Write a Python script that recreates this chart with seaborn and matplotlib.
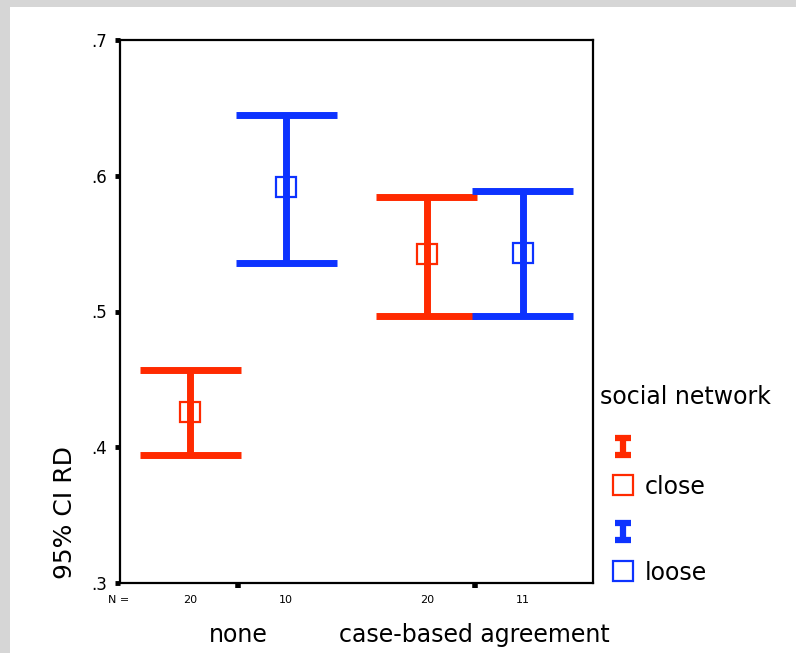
import numpy as np
import pandas as pd
import matplotlib
matplotlib.use("Agg")
import matplotlib.pyplot as plt
import seaborn as sns
from matplotlib.lines import Line2D
from matplotlib.patches import Rectangle

# Groups on the x axis and the hue levels
categories = ["none", "case-based agreement"]
networks = ["close", "loose"]

# Mean RD with 95% confidence bounds, per category (none, case-based agreement)
close_mean = [0.426, 0.542]
close_low = [0.394, 0.497]
close_high = [0.457, 0.584]
loose_mean = [0.592, 0.543]
loose_low = [0.536, 0.497]
loose_high = [0.645, 0.589]

# Group sizes printed under the axis
close_n = [20, 20]
loose_n = [10, 11]

y_ticks = [0.3, 0.4, 0.5, 0.6, 0.7]
y_tick_labels = [".3", ".4", ".5", ".6", ".7"]

RED = "#ff2a00"
BLUE = "#0d33ff"
palette = {"close": RED, "loose": BLUE}

# Long table: low bound, mean and high bound per cell; the median gives the
# mean and the full percentile range gives the interval.
rows = []
for net, lo, mu, hi in [("close", close_low, close_mean, close_high),
                        ("loose", loose_low, loose_mean, loose_high)]:
    for i, cat in enumerate(categories):
        for v in (lo[i], mu[i], hi[i]):
            rows.append({"agreement": cat, "network": net, "RD": v})
df = pd.DataFrame(rows)

sns.set_style("white")
plt.rcParams["font.family"] = ["DejaVu Sans"]
plt.rcParams["text.color"] = "black"
plt.rcParams["xtick.color"] = "black"
plt.rcParams["ytick.color"] = "black"
plt.rcParams["xtick.labelcolor"] = "black"
plt.rcParams["ytick.labelcolor"] = "black"

W, H = 796, 653
fig = plt.figure(figsize=(W / 100, H / 100), dpi=100)
ax = fig.add_axes([120 / W, 1 - 583 / H, (593 - 120) / W, (583 - 40) / H])

DODGE = 0.406
sns.pointplot(
    data=df, x="agreement", y="RD", hue="network",
    order=categories, hue_order=networks, palette=palette,
    estimator="median", errorbar=("pi", 100),
    dodge=DODGE, capsize=0.428, markers="s", linestyles="none",
    err_kws={"linewidth": 5.0, "solid_capstyle": "butt"},
    markersize=14, markeredgewidth=1.6, markerfacecolor="none",
    legend=False, ax=ax,
)
for ln in ax.lines:
    if ln.get_marker() == "s":
        ln.set_zorder(5)

ax.set_xlim(-0.5, 1.5)
ax.set_ylim(0.3, 0.7)
ax.set_yticks(y_ticks)
ax.set_yticklabels(y_tick_labels, fontsize=12, color="black")
ax.set_xticks(range(len(categories)))
ax.set_xticklabels(categories, fontsize=17, color="black")
ax.tick_params(axis="y", left=True, direction="out", length=3.5, width=3.5,
               pad=6, color="black")
ax.tick_params(axis="x", bottom=True, direction="out", length=3.5, width=4,
               pad=25, color="black")
ax.set_xlabel("")
ax.set_ylabel("")
for sp in ax.spines.values():
    sp.set_visible(True)
    sp.set_color("black")
    sp.set_linewidth(1.6)

# Group sizes under each dodged position
trans = ax.get_xaxis_transform()
for i in range(len(categories)):
    for k, nvals in enumerate([close_n, loose_n]):
        xpos = i + (k - 0.5) * DODGE
        ax.text(xpos, -0.032, str(nvals[i]), transform=trans,
                ha="center", va="center", fontsize=8, color="black")
fig.text(119 / W, 1 - 600 / H, "N =", ha="center", va="center", fontsize=8)

# Axis title
fig.text(65 / W, 1 - 579 / H, "95% CI RD", rotation=90, ha="center",
         va="bottom", fontsize=18)

# Legend
fig.text(600 / W, 1 - 397 / H, "social network", ha="left", va="center", fontsize=17)


def ibeam(xc, yc, color):
    hw, hh = 8 / W, 8.5 / H
    kw = dict(color=color, linewidth=4.5, solid_capstyle="butt", transform=fig.transFigure)
    fig.add_artist(Line2D([xc - hw, xc + hw], [yc + hh, yc + hh], **kw))
    fig.add_artist(Line2D([xc - hw, xc + hw], [yc - hh, yc - hh], **kw))
    fig.add_artist(Line2D([xc, xc], [yc - hh, yc + hh], **kw))


for (yi, ys, label, color) in [(446, 485, "close", RED), (531, 571, "loose", BLUE)]:
    ibeam(623 / W, 1 - yi / H, color)
    fig.add_artist(Line2D([623 / W], [1 - ys / H], marker="s", markersize=14,
                          markerfacecolor="none", markeredgecolor=color,
                          markeredgewidth=1.6, linestyle="none",
                          transform=fig.transFigure))
    fig.text(645 / W, 1 - (ys + 2) / H, label, ha="left", va="center", fontsize=17)

# Grey frame along the top and left edges
fig.add_artist(Rectangle((0, 1 - 7 / H), 1, 7 / H, transform=fig.transFigure,
                         facecolor="#d6d6d6", edgecolor="none"))
fig.add_artist(Rectangle((0, 0), 10 / W, 1, transform=fig.transFigure,
                         facecolor="#d6d6d6", edgecolor="none"))

fig.savefig("out.png", dpi=100)
